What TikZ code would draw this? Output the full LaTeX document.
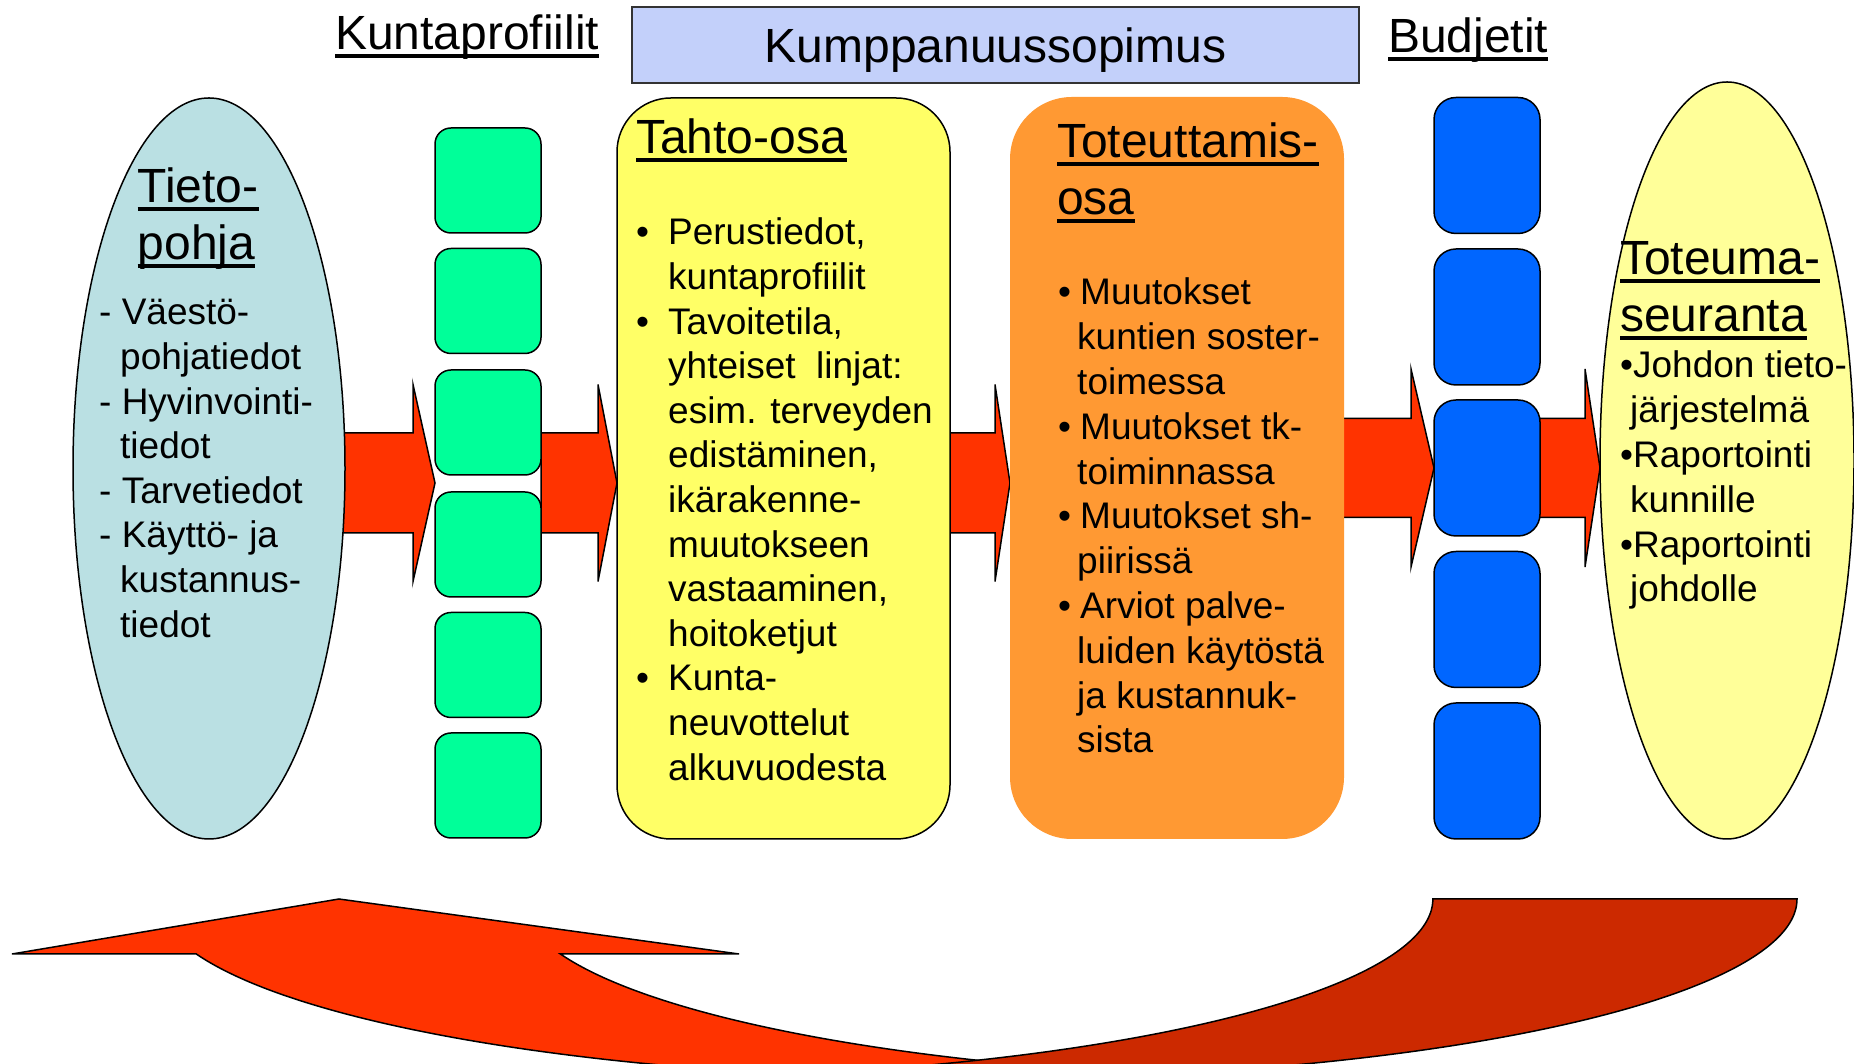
\documentclass[tikz,border=0pt]{standalone}
\usepackage{fontspec}
\setmainfont{Liberation Sans}
\usetikzlibrary{shapes.geometric}
\definecolor{tietoc}{RGB}{186,224,227}
\definecolor{toteumac}{RGB}{255,255,153}
\definecolor{tahtoc}{RGB}{255,255,102}
\definecolor{toteutc}{RGB}{255,153,51}
\definecolor{greenc}{RGB}{0,255,153}
\definecolor{bluec}{RGB}{0,102,255}
\definecolor{redc}{RGB}{255,51,0}
\definecolor{darkredc}{RGB}{204,41,0}
\definecolor{sopc}{RGB}{195,208,250}
\newcommand\ulx[1]{\setbox0=\hbox{#1}\rlap{\rule[-7.75pt]{\wd0}{3.5pt}}\box0}
\newcommand\bul[1]{\makebox[#1][l]{•}}
\newcommand\blockarrow[7]{%
  \filldraw[rarrow] (#2,{#5-#6}) -- (#3,{#5-#6}) -- (#3,{#5-#7}) -- (#4,#5) coordinate (#1)
    -- (#3,{#5+#7}) -- (#3,{#5+#6}) -- (#2,{#5+#6}) -- cycle;}
\tikzset{
  outl/.style={draw=black, line width=1.5pt},
  gbox/.style={outl, fill=greenc, rounded corners=16pt, minimum width=106pt, minimum height=105pt, inner sep=0pt},
  bbox/.style={outl, fill=bluec, rounded corners=22pt, minimum width=106pt, minimum height=136pt, inner sep=0pt},
  rarrow/.style={fill=redc, draw=black, line width=1.5pt, line join=miter},
  head/.style={anchor=base west, inner sep=0pt, font=\fontsize{48}{57}\selectfont},
  item/.style={anchor=base west, inner sep=0pt, font=\fontsize{37}{44}\selectfont},
}
\begin{document}
\begin{tikzpicture}[x=1pt,y=1pt]
\useasboundingbox (0,0) rectangle (1854,1064);
\clip (0,0) rectangle (1854,1064);
\fill[white] (0,0) rectangle (1854,1064);

% bottom curved arrow: front (bright) part, then back (dark) part
\filldraw[fill=redc, draw=black, line width=1.5pt]
  (196.3,110) arc[start angle=197.8, end angle=282.83, x radius=820, y radius=180]
  arc[start angle=257.17, end angle=197.8, x radius=820, y radius=180]
  -- (739,110) -- (339,165) coordinate (backtip) -- (12,110) -- cycle;
\filldraw[fill=darkredc, draw=black, line width=1.5pt]
  (1797,165) coordinate (backtail) arc[start angle=0, end angle=-102.83, x radius=820, y radius=180]
  arc[start angle=-77.17, end angle=0, x radius=820, y radius=180] -- cycle;

% block arrows (drawn behind the boxes)
\blockarrow{a1}{300}{413}{435}{581}{50}{98.5}
\blockarrow{a2}{541}{598}{617}{581}{50}{98.5}
\blockarrow{a3}{930}{995}{1010}{581}{50}{98.5}
\blockarrow{a4}{1320}{1411}{1434}{596}{49.5}{99}
\blockarrow{a5}{1520}{1585}{1600}{596}{49.5}{99}

% main shapes
\node[ellipse, outl, fill=tietoc, minimum width=272pt, minimum height=741pt, inner sep=0pt] (tieto) at (209,595.5) {};
\node[ellipse, outl, fill=toteumac, minimum width=254pt, minimum height=757pt, inner sep=0pt] (toteuma) at (1727,603.5) {};
\node[outl, fill=tahtoc, rounded corners=54pt, minimum width=333pt, minimum height=741pt, inner sep=0pt] (tahto) at (783.5,595.5) {};
\node[fill=toteutc, rounded corners=62pt, minimum width=334pt, minimum height=742pt, inner sep=0pt] (toteut) at (1177,596) {};
\node[draw=black!80, line width=1.8pt, fill=sopc, minimum width=727pt, minimum height=76pt, inner sep=0pt] (sop) at (995.5,1019) {};

\foreach \yy [count=\i] in {883.5,763,641.5,519.5,399,278.5}
  \node[gbox] (g\i) at (488,\yy) {};
\foreach \yy [count=\i] in {898.5,747,596,444.5,293}
  \node[bbox] (b\i) at (1487,\yy) {};

% headings
\node[head] (hkunta) at (335,1014) {\ulx{Kuntaprofiilit}};
\node[head, anchor=base] (hsop) at (sop.center |- 0,1001) {Kumppanuussopimus};
\node[head] (hbud) at (1388,1011) {\ulx{Budjetit}};
\node[head] (htieto1) at (137.5,861) {\ulx{Tieto-}};
\node[head] (htieto2) at (137.5,804) {\ulx{pohja}};
\node[head] (htahto) at (636,910) {\ulx{Tahto-osa}};
\node[head] (htot1) at (1057,906) {\ulx{Toteuttamis-}};
\node[head] (htot2) at (1057,849) {\ulx{osa}};
\node[head] (hseur1) at (1620,789) {\ulx{Toteuma-}};
\node[head] (hseur2) at (1620,732) {\ulx{seuranta}};

% item texts
\foreach \x/\t [count=\i] in {99/{- Väestö-},120/{pohjatiedot},99/{- Hyvinvointi-},120/{tiedot},
    99/{- Tarvetiedot},99/{- Käyttö- ja},120/{kustannus-},120/{tiedot}}
  \node[item] (tp\i) at (\x,{739-44.6*(\i-1)}) {\t};

\foreach \x/\t [count=\i] in {636/{\bul{32pt}Perustiedot,},668/{kuntaprofiilit},636/{\bul{32pt}Tavoitetila,},
    668/{yhteiset\ \ linjat:},668/{esim. terveyden},668/{edistäminen,},668/{ikärakenne-},
    668/{muutokseen},668/{vastaaminen,},668/{hoitoketjut},636/{\bul{32pt}Kunta-},
    668/{neuvottelut},668/{alkuvuodesta}}
  \node[item] (ta\i) at (\x,{819-44.6*(\i-1)}) {\t};

\foreach \x/\t [count=\i] in {1058/{\bul{22pt}Muutokset},1077/{kuntien soster-},1077/{toimessa},
    1058/{\bul{22pt}Muutokset tk-},1077/{toiminnassa},1058/{\bul{22pt}Muutokset sh-},
    1077/{piirissä},1058/{\bul{22pt}Arviot palve-},1077/{luiden käytöstä},
    1077/{ja kustannuk-},1077/{sista}}
  \node[item] (to\i) at (\x,{759-44.8*(\i-1)}) {\t};

\foreach \x/\t [count=\i] in {1620/{•Johdon tieto-},1630/{järjestelmä},1620/{•Raportointi},
    1630/{kunnille},1620/{•Raportointi},1630/{johdolle}}
  \node[item] (ts\i) at (\x,{686-44.8*(\i-1)}) {\t};
\end{tikzpicture}
\end{document}
